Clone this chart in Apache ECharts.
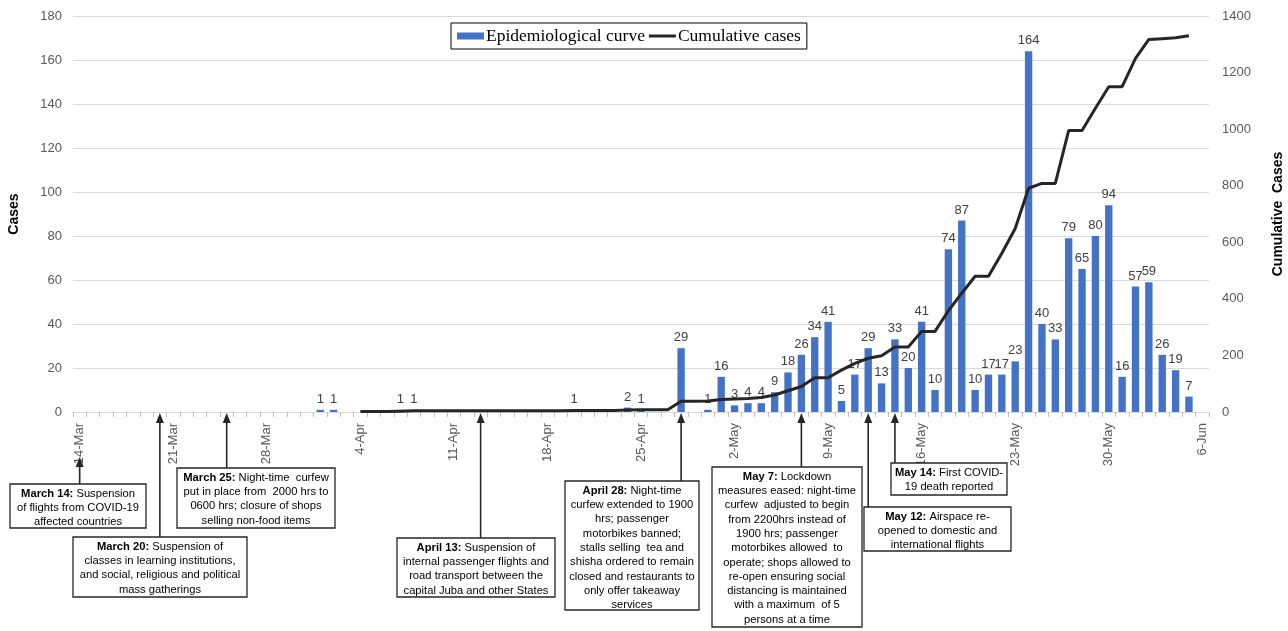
<!DOCTYPE html>
<html>
<head>
<meta charset="utf-8">
<script src="https://cdn.jsdelivr.net/npm/echarts@6/dist/echarts.min.js"></script>
<style>
html,body{margin:0;padding:0;background:#fff;}
#chart{width:1288px;height:631px;}
</style>
</head>
<body>
<div id="chart"></div>
<script>
// ---- Categories (14-Mar .. 6-Jun) ----
const monthSpans = [['Mar', 14, 31], ['Apr', 1, 30], ['May', 1, 31], ['Jun', 1, 6]];
const categories = [];
monthSpans.forEach(function (m) { for (let d = m[1]; d <= m[2]; d++) categories.push(d + '-' + m[0]); });

// ---- Daily new cases (epidemiological curve) ----
const dailyMarch = [0,0,0,0,0,0,0,0,0,0,0,0,0,0,0,0,0,0];
const dailyApril = [1,1,0,0,0,0,1,1,0,0,0,0,0,0,0,0,0,0,0,1,0,0,0,2,1,0,0,29,0,1];
const dailyMay = [16,3,4,4,9,18,26,34,41,5,17,29,13,33,20,41,10,74,87,10,17,17,23,164,40,33,79,65,80,94,16];
const dailyJune = [57,59,26,19,7,0];

// ---- Cumulative cases ----
const cumMarch = [null,null,null,null,null,null,null,null,null,null,null,null,null,null,null,null,null,null];
const cumApril = [null,null,null,2,2,2,3,4,4,4,4,4,4,4,4,4,4,4,4,5,5,5,5,7,8,8,8,38,38,39];
const cumMay = [44,46,48,51,60,75,90,121,121,148,172,190,199,230,230,285,285,358,420,480,480,561,649,791,808,808,995,995,1074,1150,1150];
const cumJune = [1250,1317,1320,1323,1330,null];

// ---- Axis ticks ----
const leftTicks = [0, 20, 40, 60, 80, 100, 120, 140, 160, 180];
const rightTicks = [0, 200, 400, 600, 800, 1000, 1200, 1400];

// ---- Annotations (date label, text lines) ----
const annotations = [
  { date: '14-Mar', text: '{b|March 14:} Suspension\nof flights from COVID-19\naffected countries' },
  { date: '20-Mar', text: '{b|March 20:} Suspension of\nclasses in learning institutions,\nand social, religious and political\nmass gatherings' },
  { date: '25-Mar', text: '{b|March 25:} Night-time  curfew\nput in place from  2000 hrs to\n0600 hrs; closure of shops\nselling non-food items' },
  { date: '13-Apr', text: '{b|April 13:} Suspension of\ninternal passenger flights and\nroad transport between the\ncapital Juba and other States' },
  { date: '28-Apr', text: '{b|April 28:} Night-time\ncurfew extended to 1900\nhrs; passenger\nmotorbikes banned;\nstalls selling  tea and\nshisha ordered to remain\nclosed and restaurants to\nonly offer takeaway\nservices' },
  { date: '7-May', text: '{b|May 7:} Lockdown\nmeasures eased: night-time\ncurfew  adjusted to begin\nfrom 2200hrs instead of\n1900 hrs; passenger\nmotorbikes allowed  to\noperate; shops allowed to\nre-open ensuring social\ndistancing is maintained\nwith a maximum  of 5\npersons at a time' },
  { date: '12-May', text: '{b|May 12:} Airspace re-\nopened to domestic and\ninternational flights' },
  { date: '14-May', text: '{b|May 14:} First COVID-\n19 death reported' }
];
// box layout [left, top, width, height, arrowTipY]
const boxLayout = [
  [10, 484, 136, 44, 457],
  [73, 537, 174, 60, 413],
  [177, 468, 158, 60, 413],
  [397, 538, 158, 59, 413],
  [565, 481, 134, 129, 413],
  [712, 467, 150, 160, 413],
  [864, 507, 147, 44, 413],
  [891, 463, 116, 32, 413]
];

const daily = dailyMarch.concat(dailyApril, dailyMay, dailyJune);
const cumulative = cumMarch.concat(cumApril, cumMay, cumJune);

const FONT = 'Liberation Sans';
const BOXFONT = 11.2;
const chart = echarts.init(document.getElementById('chart'), null, { renderer: 'canvas' });

chart.setOption({
  animation: false,
  backgroundColor: '#fff',
  grid: { left: 73, right: 79, top: 16, bottom: 219, containLabel: false, outerBoundsMode: 'none' },
  legend: {
    left: 451, top: 23,
    backgroundColor: '#fff',
    borderColor: '#000', borderWidth: 1,
    padding: [4, 6, 4, 6],
    itemGap: 4, itemWidth: 27, itemHeight: 7,
    textStyle: { fontFamily: 'Liberation Serif', fontSize: 17.5, color: '#000', padding: [0, 0, 0, -3] },
    data: [
      { name: 'Epidemiological curve', icon: 'rect' },
      { name: 'Cumulative cases', icon: 'path://M0,0L0,0M27,7L27,7M0,2L27,2L27,5L0,5Z' }
    ]
  },
  xAxis: {
    type: 'category',
    data: categories,
    boundaryGap: true,
    axisLine: { lineStyle: { color: '#d9d9d9', width: 1 } },
    axisTick: { show: true, interval: 0, length: 5, lineStyle: { color: '#bfbfbf' } },
    axisLabel: { interval: 6, rotate: 90, margin: 11, fontFamily: FONT, fontSize: 13, color: '#595959' },
    splitLine: { show: false }
  },
  yAxis: [
    {
      type: 'value', min: leftTicks[0], max: leftTicks[leftTicks.length - 1], interval: leftTicks[1] - leftTicks[0],
      name: 'Cases', nameLocation: 'middle', nameGap: 52,
      nameTextStyle: { fontFamily: FONT, fontSize: 14, fontWeight: 'bold', color: '#000' },
      axisLine: { show: false }, axisTick: { show: false },
      axisLabel: { margin: 11, fontFamily: FONT, fontSize: 13, color: '#595959' },
      splitLine: { lineStyle: { color: '#d9d9d9', width: 1 } }
    },
    {
      type: 'value', min: rightTicks[0], max: rightTicks[rightTicks.length - 1], interval: rightTicks[1] - rightTicks[0],
      name: 'Cumulative  Cases', nameLocation: 'middle', nameGap: 62, nameRotate: 90,
      nameTextStyle: { fontFamily: FONT, fontSize: 14, fontWeight: 'bold', color: '#000' },
      axisLine: { show: false }, axisTick: { show: false },
      axisLabel: { margin: 13, fontFamily: FONT, fontSize: 13, color: '#595959', formatter: function (v) { return String(v); } },
      splitLine: { show: false }
    }
  ],
  series: [
    {
      name: 'Epidemiological curve', type: 'bar', yAxisIndex: 0,
      data: daily, barWidth: '55%',
      itemStyle: { color: '#4472C4' },
      label: {
        show: true, position: 'top', distance: 4,
        fontFamily: FONT, fontSize: 13, color: '#404040',
        formatter: function (p) { return p.value ? String(p.value) : ''; }
      },
      z: 2
    },
    {
      name: 'Cumulative cases', type: 'line', yAxisIndex: 1,
      data: cumulative, symbol: 'none', showSymbol: false, connectNulls: false,
      lineStyle: { color: '#262626', width: 3 },
      itemStyle: { color: '#262626' },
      z: 3
    }
  ]
});

// ---- Annotation boxes with arrows pointing to the date on the axis ----
const graphics = [];
annotations.forEach(function (a, i) {
  const L = boxLayout[i];
  const px = chart.convertToPixel({ xAxisIndex: 0 }, a.date);
  const left = L[0], top = L[1], w = L[2], h = L[3], tip = L[4];
  graphics.push({
    type: 'line', z: 50,
    shape: { x1: px, y1: top, x2: px, y2: tip + 8 },
    style: { stroke: '#262626', lineWidth: 1.6 }
  });
  graphics.push({
    type: 'polygon', z: 51,
    shape: { points: [[px, tip], [px - 4, tip + 10], [px + 4, tip + 10]] },
    style: { fill: '#262626' }
  });
  graphics.push({
    type: 'rect', z: 52,
    shape: { x: left, y: top, width: w, height: h },
    style: { fill: '#fff', stroke: '#262626', lineWidth: 1.3 }
  });
  graphics.push({
    type: 'text', z: 53,
    x: left + w / 2, y: top + 2.5,
    style: {
      text: a.text,
      align: 'center', verticalAlign: 'top',
      fontFamily: FONT, fontSize: BOXFONT, lineHeight: 14.3, fill: '#000',
      rich: { b: { fontFamily: FONT, fontSize: BOXFONT, fontWeight: 'bold', lineHeight: 14.3, fill: '#000' } }
    }
  });
});
chart.setOption({ graphic: graphics });
</script>
</body>
</html>
